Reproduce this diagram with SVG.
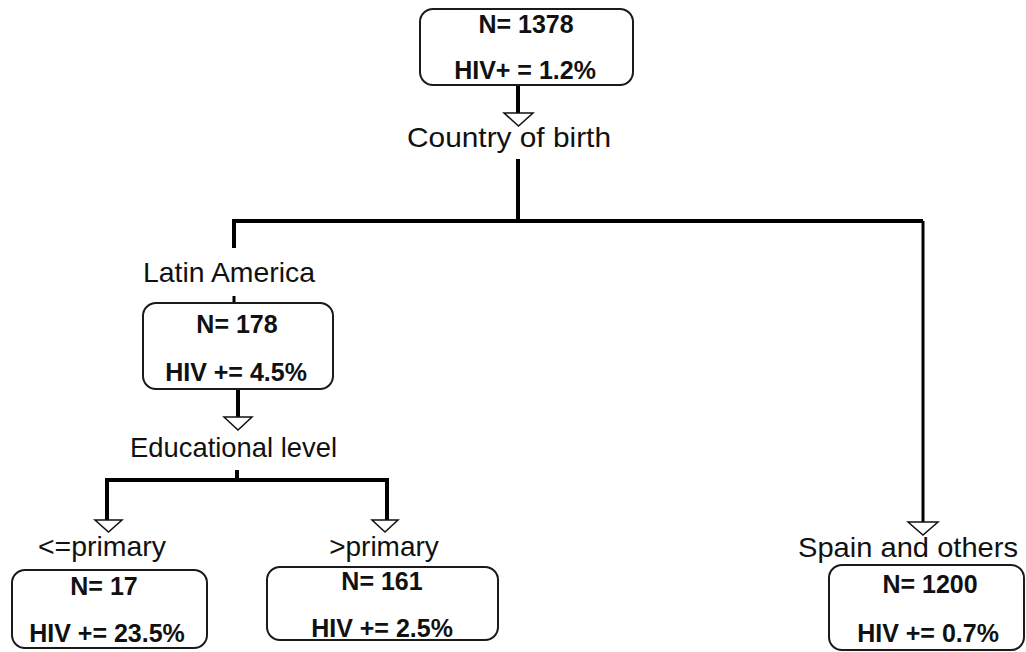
<svg xmlns="http://www.w3.org/2000/svg" width="1026" height="652" viewBox="0 0 1026 652">
<style>
.box{fill:#fff;stroke:#1a1a1a;stroke-width:2}
.b{font-family:"Liberation Sans",Arial,sans-serif;font-weight:bold;font-size:25px;fill:#111;text-anchor:middle}
.l{font-family:"Liberation Sans",Arial,sans-serif;font-size:28px;fill:#111;text-anchor:middle}
.ln{stroke:#000;stroke-width:4;fill:none}
.tri{fill:#fff;stroke:#111;stroke-width:1.5}
</style>
<rect width="1026" height="652" fill="#fff"/>
<g id="connectors">
<line class="ln" x1="518" y1="85" x2="518" y2="114"/>
<polygon class="tri" points="504,113 533,113 518.5,126"/>
<line class="ln" x1="518" y1="159" x2="518" y2="223"/>
<polyline class="ln" points="234,248 234,221 923,221"/>
<line class="ln" style="stroke-width:3" x1="923" y1="221" x2="923" y2="523"/>
<polygon class="tri" points="908,522 938,522 923,535"/>
<line class="ln" style="stroke-width:3" x1="234" y1="296" x2="234" y2="303"/>
<line class="ln" x1="238" y1="389" x2="238" y2="418"/>
<polygon class="tri" points="224,417 252,417 238,430"/>
<line class="ln" x1="237" y1="470" x2="237" y2="482"/>
<polyline class="ln" points="107,521 107,480 387,480 387,521"/>
<polygon class="tri" points="95,520 122,520 108.5,532"/>
<polygon class="tri" points="372,520 398,520 385,532"/>
</g>
<g id="split-labels">
<text class="l" x="509" y="147" textLength="204" lengthAdjust="spacingAndGlyphs">Country of birth</text>
<text class="l" x="229" y="282" textLength="172" lengthAdjust="spacingAndGlyphs">Latin America</text>
<text class="l" x="233.5" y="457" textLength="207" lengthAdjust="spacingAndGlyphs">Educational level</text>
<text class="l" x="102" y="556" textLength="128" lengthAdjust="spacingAndGlyphs">&lt;=primary</text>
<text class="l" x="384" y="556">&gt;primary</text>
<text class="l" x="908" y="557" textLength="220" lengthAdjust="spacingAndGlyphs">Spain and others</text>
</g>
<g id="node-root">
<rect class="box" x="420" y="9" width="213" height="76" rx="13"/>
<text class="b" x="526" y="33">N= 1378</text>
<text class="b" x="525" y="79">HIV+ = 1.2%</text>
</g>
<g id="node-latin">
<rect class="box" x="143" y="303" width="190" height="86" rx="13"/>
<text class="b" x="237" y="333">N= 178</text>
<text class="b" x="236" y="381">HIV += 4.5%</text>
</g>
<g id="node-primary-low">
<rect class="box" x="12" y="570" width="195" height="78" rx="13"/>
<text class="b" x="104" y="595">N= 17</text>
<text class="b" x="107" y="642">HIV += 23.5%</text>
</g>
<g id="node-primary-high">
<rect class="box" x="267" y="567" width="231" height="73" rx="13"/>
<text class="b" x="382" y="590">N= 161</text>
<text class="b" x="382" y="637">HIV += 2.5%</text>
</g>
<g id="node-spain">
<rect class="box" x="829" y="565" width="195" height="85" rx="13"/>
<text class="b" x="930" y="593">N= 1200</text>
<text class="b" x="928" y="642">HIV += 0.7%</text>
</g>
</svg>
